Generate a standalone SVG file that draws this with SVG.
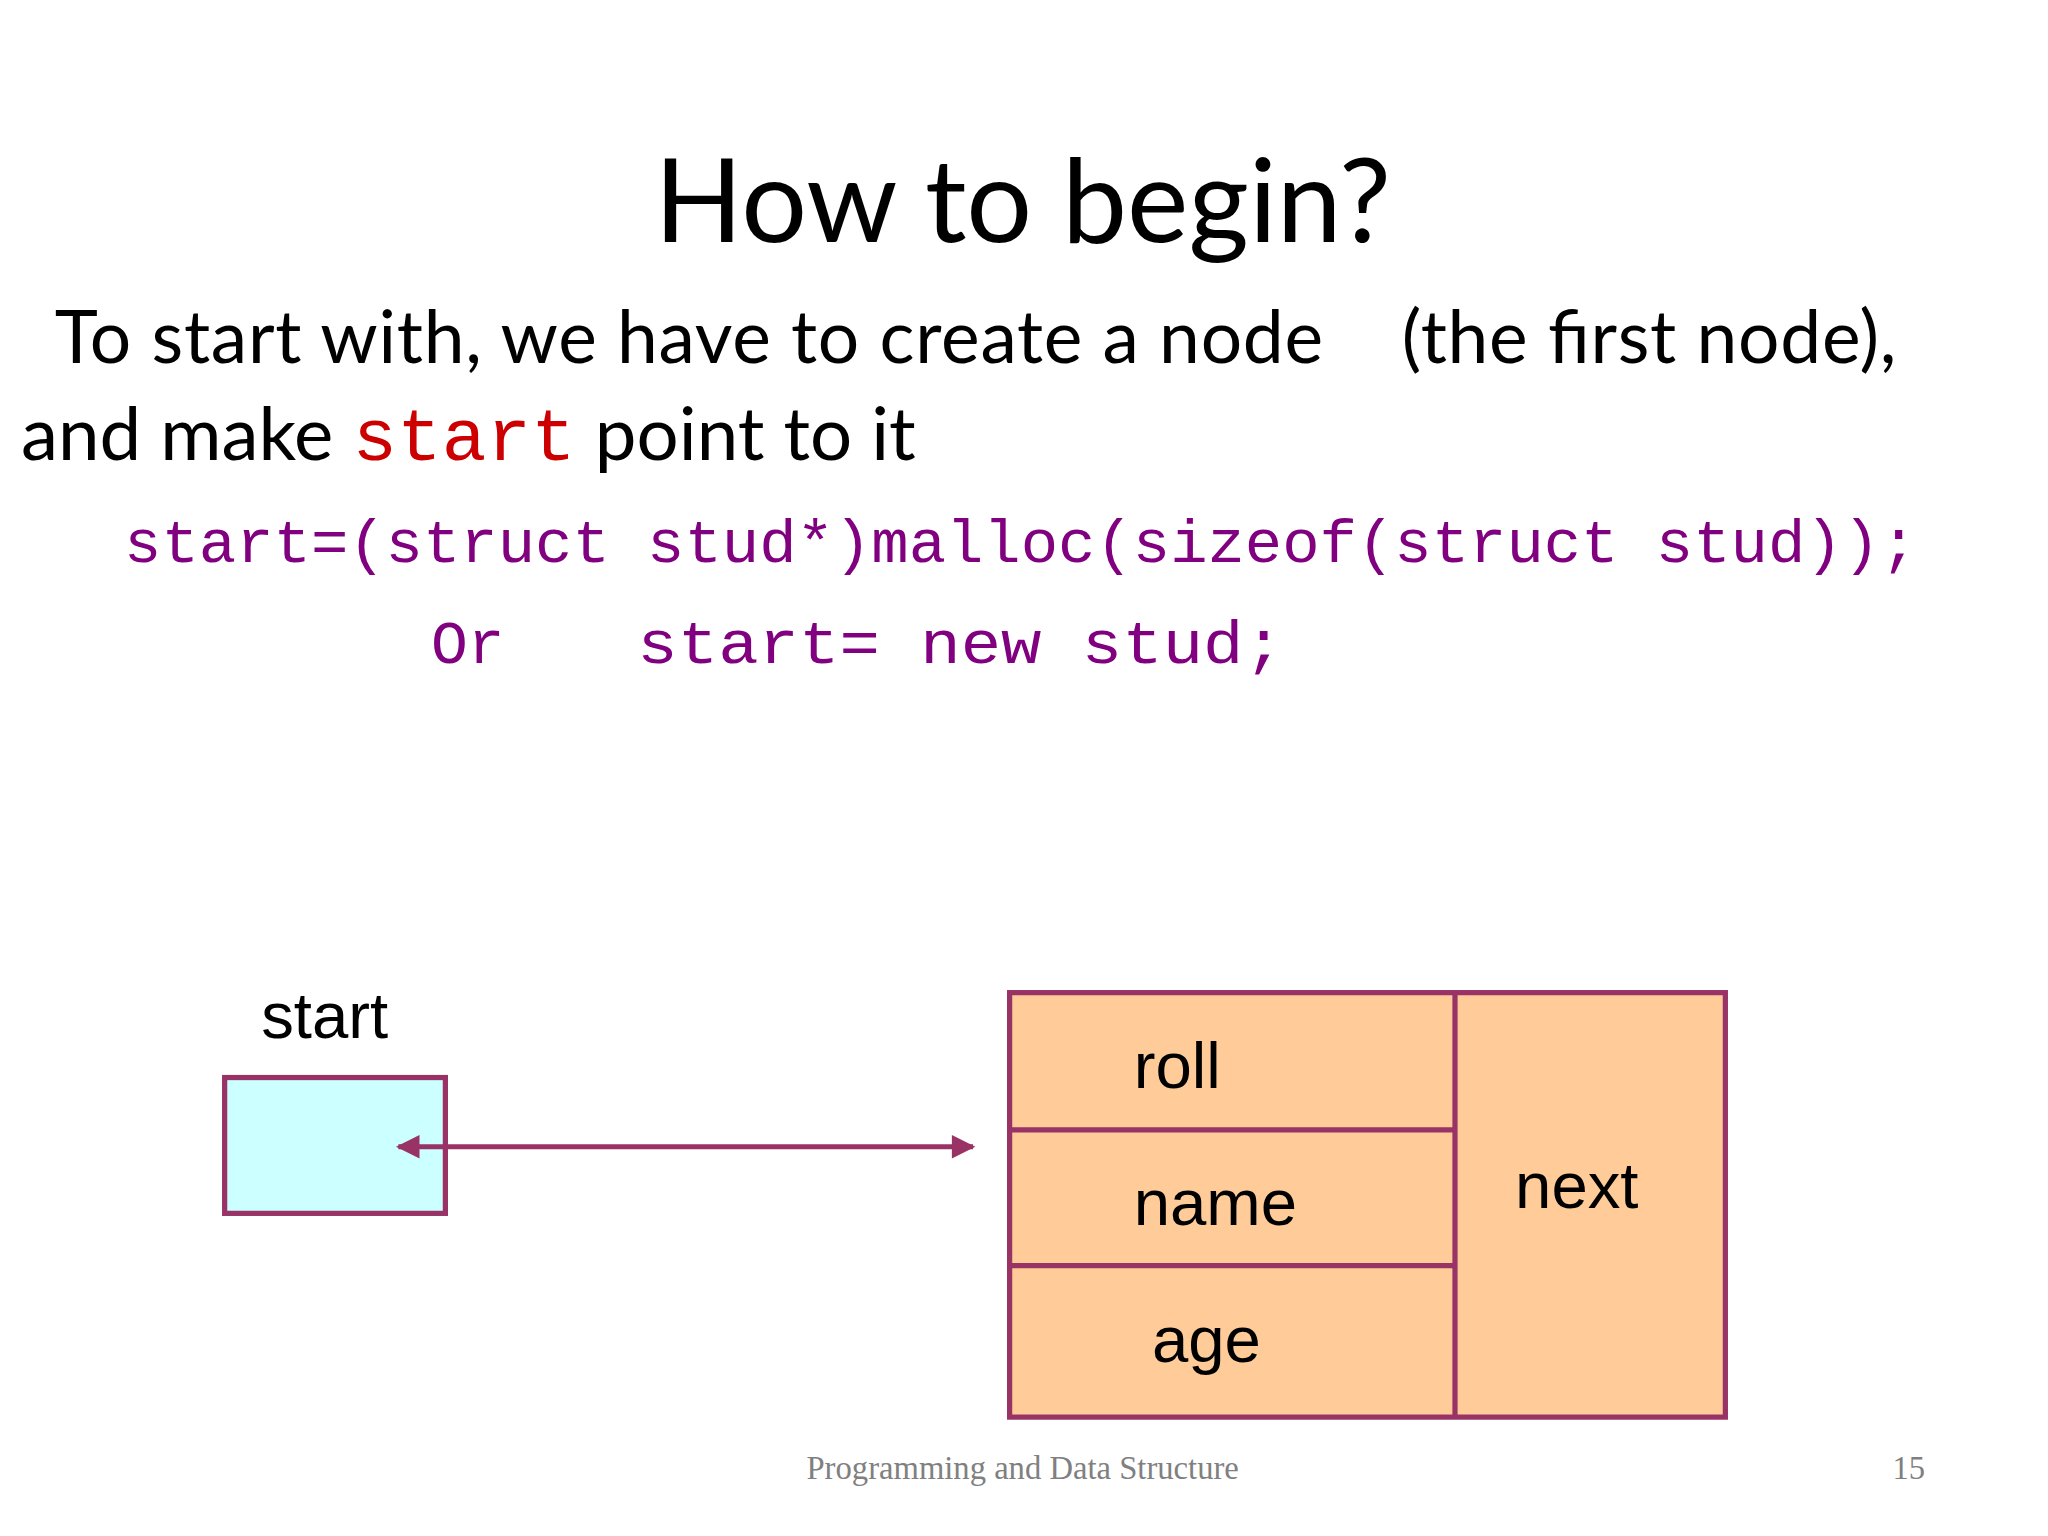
<svg xmlns="http://www.w3.org/2000/svg" width="2048" height="1536" viewBox="0 0 2048 1536">
<style>
.s{font-family:Lato,"Open Sans",sans-serif;fill:#000}
.m{font-family:"Liberation Mono",monospace;fill:#800080}
.a{font-family:"Liberation Sans",Arial,sans-serif;fill:#000;font-size:50px}
.f{font-family:"Liberation Serif",serif;fill:#808080;font-size:25px}
.box{stroke:#993366;stroke-width:4}
</style>
<defs>
<marker id="ah" viewBox="0 0 10 10" refX="9" refY="5" markerWidth="22" markerHeight="18" orient="auto-start-reverse" markerUnits="userSpaceOnUse">
<path d="M0,0 L10,5 L0,10 z" fill="#993366"/>
</marker>
</defs>
<rect width="2048" height="1536" fill="#fff"/>
<g transform="scale(1.3061)">
<g id="text">
<text class="s" x="783" y="185" font-size="89" text-anchor="middle">How to begin?</text>
<text class="s" x="42" y="278" font-size="56" xml:space="preserve" textLength="1410" lengthAdjust="spacing">To start with, we have to create a node    (the first node),</text>
<text class="s" x="16" y="352" font-size="57">and make <tspan class="m" style="fill:#CC0000">start</tspan> point to it</text>
<text class="m" x="95" y="430" font-size="47" textLength="1373" lengthAdjust="spacingAndGlyphs">start=(struct stud*)malloc(sizeof(struct stud));</text>
<text class="m" x="330" y="508" font-size="47">Or</text>
<text class="m" x="488" y="508" font-size="47" textLength="495" lengthAdjust="spacingAndGlyphs">start= new stud;</text>
<text class="f" x="783" y="1132" text-anchor="middle">Programming and Data Structure</text>
<text class="f" x="1449" y="1132">15</text>
</g>
<g id="start">
<text class="a" x="200" y="795">start</text>
<rect class="box" x="172" y="825" width="169" height="104" fill="#CCFFFF"/>
</g>
<g id="node">
<rect class="box" x="773" y="760" width="548" height="325" fill="#FFCC99"/>
<line class="box" x1="1114" y1="760" x2="1114" y2="1085"/>
<line class="box" x1="773" y1="865" x2="1114" y2="865"/>
<line class="box" x1="773" y1="969" x2="1114" y2="969"/>
<text class="a" x="868" y="833">roll</text>
<text class="a" x="868" y="938">name</text>
<text class="a" x="882" y="1043">age</text>
<text class="a" x="1160" y="925">next</text>
</g>
<g id="connectors">
<line x1="305" y1="878" x2="745" y2="878" stroke="#993366" stroke-width="4" marker-start="url(#ah)" marker-end="url(#ah)"/>
</g>
</g>
</svg>
